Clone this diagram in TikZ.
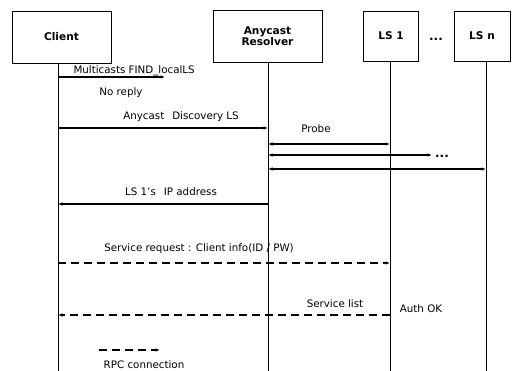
\documentclass[tikz,border=0pt]{standalone}
\usepackage{fontspec}
\setmainfont{DejaVu Sans}
\usetikzlibrary{arrows.meta}

\begin{document}
\begin{tikzpicture}[x=1pt, y=-1pt, font=\fontsize{10.3}{12}\selectfont,
  actor/.style={draw, line width=0.9pt, inner sep=0pt, align=center,
    font=\fontsize{10.6}{10.5}\selectfont\bfseries},
  life/.style={line width=0.9pt},
  msg/.style={line width=1.2pt, -{Latex[length=4.5pt,width=3.5pt]}},
  probe/.style={line width=1.2pt, {Latex[length=4.5pt,width=3.5pt]}-{Latex[length=4.5pt,width=3.5pt]}},
  rpc/.style={msg, dash pattern=on 8pt off 5pt}]
\newcommand{\ClX}{58} % client lifeline
\newcommand{\ResX}{268} % resolver lifeline
\newcommand{\LsOneX}{390} % LS 1 lifeline
\newcommand{\LsNX}{486} % LS n lifeline
\newcommand{\Bot}{371} % bottom of lifelines

\useasboundingbox (0,0) rectangle (512,371);

% boxes
\node[actor, minimum width=99pt, minimum height=52pt] (client) at (61.5,37) {Client};
\node[actor, minimum width=109pt, minimum height=52pt] (res) at (267.5,36) {Anycast\\Resolver};
\node[actor, minimum width=55pt, minimum height=50pt] (lsone) at (391,36) {LS 1};
\node[actor, minimum width=56pt, minimum height=50pt] (lsn) at (482,36) {LS n};
\node[font=\fontsize{12}{12}\selectfont\bfseries] (topdots) at (436,39) {...};

% lifelines
\coordinate (clT) at (\ClX, 63);
\coordinate (clB) at (\ClX, \Bot);
\coordinate (resT) at (\ResX, 62);
\coordinate (resB) at (\ResX, \Bot);
\coordinate (loT) at (\LsOneX, 61);
\coordinate (loB) at (\LsOneX, \Bot);
\coordinate (lnT) at (\LsNX, 61);
\coordinate (lnB) at (\LsNX, \Bot);
\draw[life] (clT) -- (clB);
\draw[life] (resT) -- (resB);
\draw[life] (loT) -- (loB);
\draw[life] (lnT) -- (lnB);

% multicast, no reply
\coordinate (mcA) at (\ClX, 77);
\coordinate (mcB) at (165, 77);
\draw[msg] (mcA) -- (mcB);
\node[anchor=base west] (mclab) at (70, 74) {Multicasts FIND\_localLS};
\node (noreply) at (121, 93) {No reply};

% anycast discovery
\coordinate (adA) at (\ClX, 128);
\coordinate (adB) at (\ResX, 128);
\draw[msg] (adA) -- (adB);
\node (adlab) at (181, 117) {Anycast\hspace{8pt}Discovery LS};

% probes
\node (probelab) at (316, 129) {Probe};
\coordinate (pA) at (\ResX, 144);
\coordinate (pB) at (\LsOneX, 144);
\coordinate (qA) at (\ResX, 155);
\coordinate (qB) at (432, 155);
\coordinate (rA) at (\ResX, 169);
\coordinate (rB) at (\LsNX, 169);
\draw[probe] (pA) -- (pB);
\draw[probe] (qA) -- (qB);
\draw[probe] (rA) -- (rB);
\node[font=\fontsize{12}{12}\selectfont\bfseries] (pdots) at (442,156) {...};

% reply with address
\coordinate (ipA) at (\ResX, 204);
\coordinate (ipB) at (\ClX, 204);
\draw[msg] (ipA) -- (ipB);
\node (iplab) at (171, 192) {LS 1's\hspace{8pt}IP address};

% service request / list
\coordinate (srA) at (\ClX, 263);
\coordinate (srB) at (\LsOneX, 263);
\draw[rpc] (srA) -- (srB);
\node (srlab) at (199, 249) {Service request : Client info(ID / PW)};
\coordinate (slA) at (\LsOneX, 315);
\coordinate (slB) at (\ClX, 315);
\draw[rpc] (slA) -- (slB);
\node (sllab) at (335, 304) {Service list};
\node (auth) at (421, 309) {Auth OK};

% legend
\coordinate (lgA) at (99, 350);
\coordinate (lgB) at (160, 350);
\draw[rpc] (lgA) -- (lgB);
\node (lglab) at (144, 365) {RPC connection};
\end{tikzpicture}
\end{document}
